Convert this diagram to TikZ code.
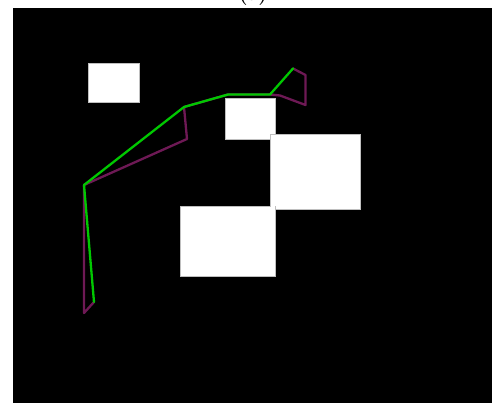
\documentclass[tikz,border=0pt]{standalone}
\begin{document}
\begin{tikzpicture}[x=1pt,y=-1pt,
  obst/.style={fill=white,draw=white!75!black,line width=0.6pt},
  pathg/.style={draw={rgb,255:red,0;green,200;blue,0},line width=2.3pt,line join=round,line cap=round},
  pathp/.style={draw={rgb,255:red,110;green,25;blue,85},line width=2.3pt,line join=round,line cap=round}]
\useasboundingbox (0,0) rectangle (492,403);
\fill[white] (0,0) rectangle (492,403);
\fill[black] (13,8) rectangle (492,403);
\node[anchor=base,font=\fontsize{20}{24}\selectfont\bfseries,inner sep=0pt] (lbl) at (253,0.8) {(a)};
% obstacles
\draw[obst] (88.5,63) rectangle (139,102.5);
\draw[obst] (225,98) rectangle (275,139);
\draw[obst] (270,134.5) rectangle (360.5,209);
\draw[obst] (180,206) rectangle (275,276.5);
\fill[white] (270.6,135) rectangle (274.5,208.6);
% paths
\coordinate (p1) at (84,313);
\coordinate (g0) at (94,302);
\coordinate (a1) at (84,185);
\coordinate (p2) at (187,139);
\coordinate (a2) at (184,107);
\coordinate (a3) at (228,94.5);
\coordinate (a4) at (270,94.5);
\coordinate (p3) at (280,95.5);
\coordinate (p4) at (305.5,105);
\coordinate (p5) at (305.5,75);
\coordinate (a5) at (293,68.5);
\draw[pathp] (g0) -- (p1) -- (a1) -- (p2) -- (a2) -- (a3) -- (a4) -- (p3) -- (p4) -- (p5) -- (a5);
\draw[pathg] (g0) -- (a1) -- (a2) -- (a3) -- (a4) -- (a5);
\end{tikzpicture}
\end{document}
